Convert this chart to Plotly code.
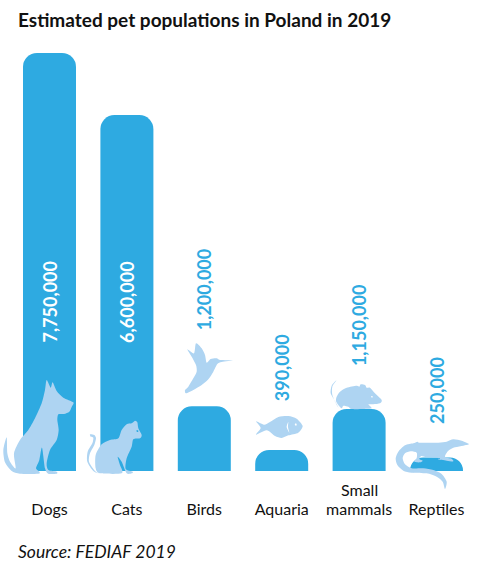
import plotly.graph_objects as go

W, H = 495, 572
BASE_PX = 471
SCALE_PX_PER_UNIT = 418 / 7750000

categories = ["Dogs", "Cats", "Birds", "Aquaria", "Small mammals", "Reptiles"]
tick_labels = ["Dogs", "Cats", "Birds", "Aquaria", "mammals", "Reptiles"]
values = [7750000, 6600000, 1200000, 390000, 1150000, 250000]
value_labels = ["7,750,000", "6,600,000", "1,200,000", "390,000", "1,150,000", "250,000"]
label_colors = ["#ffffff", "#ffffff", "#2eaae1", "#2eaae1", "#2eaae1", "#2eaae1"]
label_bottom_px = [345, 345, 332, 403, 368, 426]

BAR = "#2eaae1"
ICON = "#aed4f2"
FONT = "Lato"


def py(y):
    return 1 - y / BASE_PX


def px_path(pts, ox, oy, s=1 / 3):
    """Smooth closed outline from zoomed-reference pixels, in paper coordinates."""
    p = [((x * s + ox) / W, py(y * s + oy)) for x, y in pts]
    n = len(p)
    k = 1 / 8
    d = f"M{p[0][0]:.5f},{p[0][1]:.5f}"
    for i in range(n):
        a, b, c, e = p[i - 1], p[i], p[(i + 1) % n], p[(i + 2) % n]
        c1 = (b[0] + (c[0] - a[0]) * k, b[1] + (c[1] - a[1]) * k)
        c2 = (c[0] - (e[0] - b[0]) * k, c[1] - (e[1] - b[1]) * k)
        d += f" C{c1[0]:.5f},{c1[1]:.5f} {c2[0]:.5f},{c2[1]:.5f} {c[0]:.5f},{c[1]:.5f}"
    return d + " Z"


icons = [
    # dog
    (0, 375, ICON, [(140,15),(152,38),(158,22),(170,48),(190,68),(220,82),(215,96),(208,110),(192,117),(175,118),(172,135),(176,165),(170,195),(150,225),(140,265),(145,285),(170,290),(170,296),(145,296),(135,280),(126,218),(118,255),(108,280),(118,290),(115,296),(60,296),(35,288),(15,262),(10,225),(20,187),(22,235),(30,260),(47,280),(42,235),(60,195),(85,165),(105,130),(125,85),(135,45)]),
    # cat body
    (85, 415, ICON, [(150,17),(157,22),(160,40),(170,60),(165,70),(145,73),(140,95),(125,130),(122,162),(143,170),(140,175),(125,175),(110,140),(98,125),(105,150),(110,175),(45,175),(32,160),(32,120),(50,88),(75,75),(100,70),(110,45),(125,28),(140,25)]),
    # cat tail
    (85, 415, ICON, [(15,58),(28,60),(33,70),(28,90),(15,115),(12,140),(30,168),(42,175),(25,168),(7,140),(8,110),(22,85),(25,68),(17,65)]),
    # cat eye
    (85, 415, BAR, [(155,45),(160,47),(159,51),(155,50)]),
    # hummingbird
    (180, 340, ICON, [(48,10),(65,25),(75,45),(80,68),(92,57),(110,55),(120,60),(160,61),(125,66),(112,72),(100,95),(85,118),(65,135),(40,150),(18,160),(15,150),(25,140),(40,115),(50,95),(48,75),(35,50),(22,28),(42,40)]),
    # fish
    (250, 412, ICON, [(18,28),(42,38),(60,30),(85,15),(115,12),(140,20),(158,42),(145,62),(115,70),(95,78),(75,72),(50,55),(18,68),(32,48)]),
    (250, 412, "#ffffff", [(115,30),(110,45),(118,62),(114,45)]),
    (250, 412, "#ffffff", [(135,35),(140,36),(139,41),(135,40)]),
    # mouse
    (325, 375, ICON, [(35,65),(45,50),(65,38),(95,32),(103,35),(107,28),(120,30),(125,38),(135,38),(150,55),(170,75),(165,85),(145,88),(130,88),(140,100),(115,102),(80,102),(70,95),(55,92),(50,100),(40,90),(33,78)]),
    (325, 375, ICON, [(35,15),(22,35),(22,60),(35,90),(40,97),(28,75),(17,55),(20,32)]),
    (325, 375, "#ffffff", [(139,63),(143,64),(142,68),(139,67)]),
    # lizard
    (390, 430, ICON, [(237,42),(215,32),(190,28),(170,35),(145,38),(90,38),(82,35),(70,40),(45,46),(25,65),(17,85),(22,105),(40,122),(65,128),(110,130),(140,140),(158,155),(165,177),(170,155),(155,132),(130,120),(100,115),(65,115),(45,103),(38,85),(45,70),(62,64),(80,68),(80,84),(72,94),(80,97),(90,97),(98,92),(88,87),(94,78),(110,82),(145,84),(150,86),(142,88),(170,92),(190,94),(185,86),(165,80),(175,62),(195,52),(220,47)]),
]

fig = go.Figure(go.Bar(x=categories, y=values, marker=dict(color=BAR, line=dict(width=0)),
                       hoverinfo="skip"))

shapes = [dict(type="path", xref="paper", yref="paper", path=px_path(pts, ox, oy), layer="above",
               fillcolor=col, line=dict(width=0)) for ox, oy, col, pts in icons]

annotations = [
    dict(x=c, xref="x", y=py(b), yref="paper", text=f"<b>{t}</b>", textangle=-90, showarrow=False,
         yanchor="bottom", xanchor="center", font=dict(family=FONT, size=18, color=col))
    for c, t, b, col in zip(categories, value_labels, label_bottom_px, label_colors)
]
annotations += [
    dict(x=16 / W, xref="paper", xanchor="left", y=py(20), yref="paper", yanchor="middle",
         text="<b>Estimated pet populations in Poland in 2019</b>", showarrow=False,
         font=dict(family=FONT, size=19, color="#111111")),
    dict(x=16 / W, xref="paper", xanchor="left", y=py(551), yref="paper", yanchor="middle",
         text="<i>Source: FEDIAF 2019</i>", showarrow=False,
         font=dict(family=FONT, size=17.5, color="#111111")),
    dict(x="Small mammals", xref="x", xanchor="center", y=py(489), yref="paper", yanchor="middle",
         text="Small", showarrow=False, font=dict(family=FONT, size=16, color="#111111")),
]

spacing = 77.4
fig.update_layout(
    width=W, height=H, margin=dict(l=0, r=0, t=0, b=H - BASE_PX, pad=0),
    paper_bgcolor="#ffffff", plot_bgcolor="#ffffff", showlegend=False,
    bargap=1 - 53 / spacing, barcornerradius=14,
    shapes=shapes, annotations=annotations,
    xaxis=dict(range=[-49.5 / spacing, (W - 49.5) / spacing], tickmode="array",
               tickvals=categories, ticktext=tick_labels, showgrid=False, zeroline=False,
               showline=False, ticks="", ticklabelstandoff=27,
               tickfont=dict(family=FONT, size=16, color="#111111")),
    yaxis=dict(range=[0, BASE_PX / SCALE_PX_PER_UNIT], visible=False),
)

fig.write_html("out.html", config={"displayModeBar": False},
               post_script="document.body.style.margin='0';")
